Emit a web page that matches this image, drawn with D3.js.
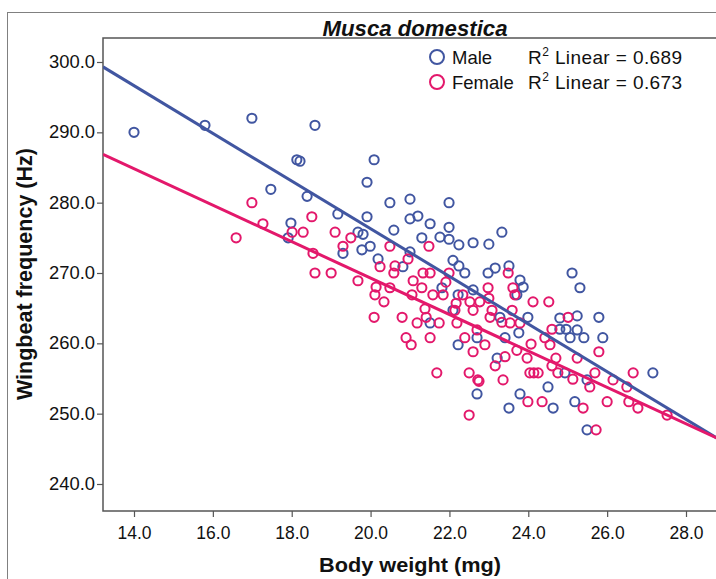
<!DOCTYPE html>
<html><head><meta charset="utf-8">
<script src="https://cdnjs.cloudflare.com/ajax/libs/d3/7.8.5/d3.min.js"></script>
<style>body{margin:0;background:#fff}svg{display:block}text{font-family:"Liberation Sans",Arial,sans-serif}</style>
</head><body>
<script>
const title = "Musca domestica";
const xTicks = [14,16,18,20,22,24,26,28];
const yTicks = [240,250,260,270,280,290,300];
const groups = ["Male","Female"];
const r2Labels = ["0.689","0.673"];
const lineIntercepts = [344.1, 321.1];
const lineSlopes = [-3.390, -2.591];

const maleX = [14.00,15.80,16.99,18.59,18.13,18.21,17.47,18.39,17.98,17.91,20.09,19.91,20.49,21.00,21.99,19.17,19.91,21.00,21.20,21.51,21.99,20.59,19.68,19.81,21.30,21.76,21.99,22.24,22.60,23.00,23.33,19.99,19.78,19.30,20.19,21.00,22.09,22.24,22.39,22.98,23.16,20.82,23.51,23.79,23.87,23.71,22.60,25.11,25.31,22.22,21.81,21.51,22.09,22.22,22.70,22.70,23.99,23.28,24.80,25.24,25.79,24.80,24.96,25.24,25.41,25.89,25.06,23.76,23.41,23.21,24.93,27.16,25.49,24.50,23.79,23.51,24.63,25.18,25.49];
const maleY = [290.0,291.0,292.0,291.0,286.1,285.9,281.9,280.9,277.1,275.0,286.1,282.9,280.0,280.5,280.0,278.4,278.0,277.7,278.1,277.0,276.5,276.1,275.8,275.5,275.0,275.1,274.8,274.0,274.3,274.1,275.8,273.8,273.3,272.8,272.0,273.0,271.8,271.0,270.0,270.0,270.7,270.9,271.0,269.0,268.0,266.9,267.6,270.0,267.9,266.9,267.9,262.9,264.7,259.8,260.8,252.8,263.7,263.7,263.6,263.9,263.7,262.0,262.0,261.9,260.8,260.8,260.8,261.5,260.8,257.9,255.8,255.8,254.8,253.8,252.8,250.8,250.8,251.7,247.7];
const femaleX = [16.59,16.99,17.27,18.01,18.29,18.51,18.54,19.00,18.59,19.10,19.50,19.30,20.49,21.48,20.95,20.24,20.62,20.59,21.33,21.51,21.99,19.68,20.14,20.11,20.49,20.34,21.08,21.30,21.05,21.58,21.84,20.09,20.80,21.18,21.38,21.41,21.74,22.17,22.19,22.52,20.90,21.03,21.51,22.39,22.70,22.90,22.60,21.68,22.50,22.75,22.50,21.91,22.98,22.77,23.00,22.14,22.60,23.08,23.61,23.49,23.66,24.12,24.52,23.59,23.03,23.33,23.54,23.79,25.01,24.60,24.42,24.07,24.55,25.79,23.41,23.71,23.97,25.24,24.70,23.16,24.60,24.04,24.14,24.25,24.75,25.69,26.66,25.13,26.15,26.50,25.56,22.72,23.36,23.99,24.35,26.00,26.55,25.39,26.78,27.52,25.72,22.34];
const femaleY = [275.0,280.0,277.0,275.8,275.8,278.0,272.8,270.0,270.0,275.8,275.0,273.8,273.8,273.8,272.0,270.9,271.0,270.0,270.0,270.0,270.0,268.9,268.0,266.9,267.9,265.9,268.9,267.9,266.9,266.9,266.9,263.7,263.7,262.9,264.9,263.7,262.9,265.7,262.9,265.9,260.8,259.8,260.8,260.8,261.9,259.8,258.8,255.8,255.8,254.6,249.8,268.7,267.9,265.9,266.4,264.7,264.7,264.7,267.9,270.0,266.9,265.9,265.9,264.7,263.7,263.0,262.9,262.9,263.7,262.0,260.8,259.9,259.8,258.8,258.1,259.0,257.9,257.9,257.9,256.8,256.8,255.8,255.8,255.8,255.8,255.8,255.8,254.9,254.8,253.8,253.8,254.8,254.8,251.7,251.7,251.7,251.7,250.8,250.8,249.8,247.7,266.9];

const colors = ["#4156a1","#e3186b"];
const W = 716, H = 579;
const svg = d3.select("body").append("svg").attr("width", W).attr("height", H);

const x = d3.scaleLinear().domain([14, 28]).range([134, 686]);
const y = d3.scaleLinear().domain([240, 300]).range([484, 62]);
const plot = {left: 103, top: 38, right: 740, bottom: 511};

svg.append("rect").attr("x", 7.5).attr("y", 12.5).attr("width", W + 20).attr("height", H + 20)
  .attr("fill", "none").attr("stroke", "#808080").attr("stroke-width", 1);

svg.append("text").attr("x", 415).attr("y", 36).attr("text-anchor", "middle")
  .attr("font-size", 22).attr("font-weight", "bold").attr("font-style", "italic").attr("fill", "#111")
  .attr("textLength", 185).attr("lengthAdjust", "spacingAndGlyphs").text(title);

svg.append("defs").append("clipPath").attr("id", "clip").append("rect")
  .attr("x", plot.left).attr("y", plot.top).attr("width", plot.right - plot.left).attr("height", plot.bottom - plot.top);

svg.append("rect").attr("x", plot.left).attr("y", plot.top).attr("width", plot.right - plot.left).attr("height", plot.bottom - plot.top)
  .attr("fill", "none").attr("stroke", "#555").attr("stroke-width", 1.5);

const yAxis = d3.axisLeft(y).tickValues(yTicks).tickFormat(d3.format(".1f")).tickSize(6).tickPadding(2);
const gy = svg.append("g").attr("transform", `translate(${plot.left},0)`).call(yAxis);
gy.select(".domain").remove();
gy.selectAll("line").attr("stroke", "#555").attr("stroke-width", 1.2);
gy.selectAll("text").attr("font-size", 17.5).attr("fill", "#111").attr("font-family", "Liberation Sans, Arial, sans-serif")
  .attr("textLength", 46).attr("lengthAdjust", "spacingAndGlyphs");

const xAxis = d3.axisBottom(x).tickValues(xTicks).tickFormat(d3.format(".1f")).tickSize(6).tickPadding(10);
const gx = svg.append("g").attr("transform", `translate(0,${plot.bottom})`).call(xAxis);
gx.select(".domain").remove();
gx.selectAll("line").attr("stroke", "#555").attr("stroke-width", 1.2);
gx.selectAll("text").attr("font-size", 17.5).attr("fill", "#111").attr("font-family", "Liberation Sans, Arial, sans-serif")
  .attr("textLength", 34).attr("lengthAdjust", "spacingAndGlyphs");

svg.append("text").attr("x", 410).attr("y", 572).attr("text-anchor", "middle")
  .attr("font-size", 21).attr("font-weight", "bold").attr("fill", "#111")
  .attr("textLength", 182).attr("lengthAdjust", "spacingAndGlyphs").text("Body weight (mg)");
svg.append("text").attr("transform", "translate(32,274) rotate(-90)").attr("text-anchor", "middle")
  .attr("font-size", 22).attr("font-weight", "bold").attr("fill", "#111")
  .attr("textLength", 252).attr("lengthAdjust", "spacingAndGlyphs").text("Wingbeat frequency (Hz)");

const g = svg.append("g").attr("clip-path", "url(#clip)");
const series = [d3.zip(maleX, maleY), d3.zip(femaleX, femaleY)];
series.forEach((pts, i) => {
  g.append("g").selectAll("circle").data(pts).join("circle")
    .attr("cx", d => x(d[0])).attr("cy", d => y(d[1])).attr("r", 4.6)
    .attr("fill", "none").attr("stroke", colors[i]).attr("stroke-width", 2);
});
const xd = [x.invert(plot.left), x.invert(plot.right)];
[0, 1].forEach(i => {
  const line = d3.line().x(d => x(d)).y(d => y(lineIntercepts[i] + lineSlopes[i] * d));
  g.append("path").attr("d", line(xd)).attr("fill", "none").attr("stroke", colors[i]).attr("stroke-width", 3);
});

const lg = svg.append("g");
groups.forEach((name, i) => {
  const cy = 57 + i * 25;
  lg.append("circle").attr("cx", 437).attr("cy", cy).attr("r", 7).attr("fill", "none").attr("stroke", colors[i]).attr("stroke-width", 2);
  lg.append("text").attr("x", 452).attr("y", cy + 7).attr("font-size", 18.5).attr("fill", "#111").text(name);
  const t = lg.append("text").attr("x", 528).attr("y", cy + 7).attr("font-size", 19).attr("letter-spacing", 0.4).attr("fill", "#111");
  t.append("tspan").text("R");
  t.append("tspan").attr("font-size", 12).attr("dy", -8).text("2");
  t.append("tspan").attr("dy", 8).text(" Linear = " + r2Labels[i]);
});
</script>
</body></html>
